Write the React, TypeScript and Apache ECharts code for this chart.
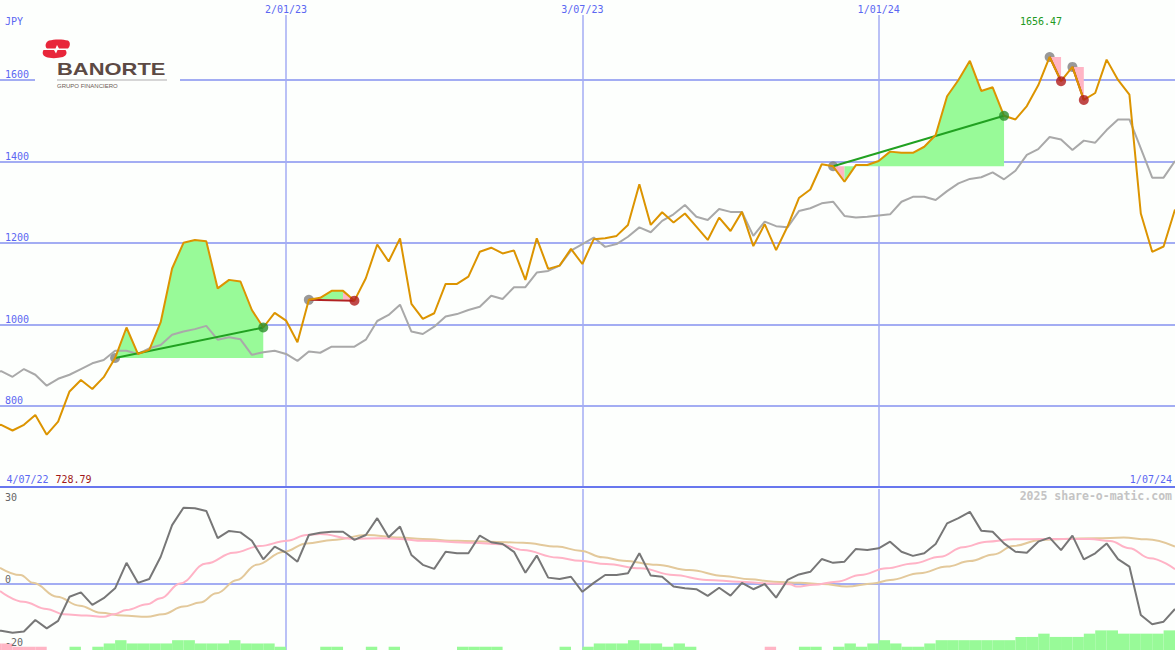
import React, { useEffect, useRef } from "react";
import * as echarts from "echarts";

// ---- data (weekly, index = weeks since 4/07/22) ----
const price = [
  748, 753, 739, 753, 777, 728.79, 761, 835, 863, 841,
  870, 917, 992, 927, 937, 1005, 1137, 1200, 1207, 1204,
  1088, 1109, 1105, 1035, 992, 1028, 1009, 956, 1060, 1065,
  1082, 1082, 1058, 1113, 1196, 1154, 1211, 1050, 1013, 1027,
  1099, 1099, 1117, 1178, 1188, 1174, 1181, 1109, 1211, 1136,
  1144, 1185, 1148, 1209, 1211, 1217, 1244, 1344, 1244, 1275,
  1250, 1272, 1240, 1207, 1262, 1229, 1276, 1192, 1246, 1182,
  1240, 1310, 1331, 1393, 1388, 1350, 1391, 1391, 1401, 1424,
  1421, 1421, 1436, 1465, 1560, 1600, 1647, 1573, 1582, 1512,
  1503, 1536, 1587, 1656.47, 1597, 1632, 1551, 1568, 1650, 1600,
  1564, 1272, 1178, 1191, 1282,
];
const bench = [
  875, 885, 871, 890, 876, 849, 866, 876, 890, 904,
  912, 935, 935, 927, 941, 949, 974, 982, 988, 996,
  962, 968, 963, 925, 931, 935, 927, 910, 933, 930,
  945, 945, 945, 962, 1008, 1023, 1048, 982, 976, 994,
  1019, 1025, 1035, 1043, 1070, 1062, 1091, 1091, 1127, 1131,
  1144, 1181, 1197, 1213, 1190, 1197, 1215, 1238, 1226, 1254,
  1270, 1293, 1264, 1256, 1283, 1276, 1276, 1217, 1252, 1241,
  1238, 1278, 1285, 1297, 1301, 1266, 1262, 1264, 1267, 1270,
  1301, 1313, 1313, 1305, 1327, 1346, 1357, 1361, 1373, 1356,
  1377, 1416, 1430, 1460, 1454, 1428, 1451, 1446, 1477, 1503,
  1503, 1432, 1360, 1360, 1401,
];
const osc = [
  -16, -16.1, -16.8, -16.4, -12.4, -15.3, -12.7, -4.4, -2.9, -7.2,
  -4.9, -1.5, 7.3, 0.4, 1.7, 9.4, 20.3, 26.3, 26.1, 25.2,
  15.8, 18.3, 17.8, 14.9, 8.5, 12.9, 10.8, 7.7, 16.9, 17.7,
  18.0, 18.0, 15.2, 16.9, 22.7, 16.1, 19.8, 10.0, 6.6, 5.2,
  11.1, 10.6, 10.6, 16.7, 14.4, 13.8, 11.1, 3.9, 9.8, 2.2,
  1.7, 2.5, -2.7, 0.4, 3.1, 3.1, 3.7, 10.6, 2.9, 2.5,
  -0.9, -1.5, -1.8, -4.1, -1.3, -4.0, 0.4, -1.8, 0, -4.7,
  1.4, 3.3, 4.2, 8.6, 7.3, 7.7, 12.1, 11.7, 12.3, 14.6,
  11.1, 9.7, 10.6, 13.8, 20.9, 22.7, 24.9, 18.4, 18.0, 14.0,
  11.1, 10.8, 14.6, 16.0, 11.7, 16.7, 8.5, 10.6, 14.0, 8.6,
  6.0, -10.7, -13.9, -13.0, -8.6,
];
const hist = [
  0, -2, -2, -1, -1, -1, 0, 0, 1, 0,
  1, 2, 3, 2, 2, 2, 2, 3, 3, 2,
  2, 2, 3, 2, 2, 2, 1, 0, 0, 0,
  1, 1, 0, 0, 1, 0, 1, 0, 0, 0,
  0, 0, 1, 1, 1, 1, 0, 0, 0, 0,
  0, 1, 0, 1, 2, 2, 2, 3, 2, 2,
  1, 2, 1, 0, 0, 0, 0, 0, 0, -1,
  0, 0, 1, 1, 0, 1, 2, 1, 2, 3,
  2, 1, 1, 2, 3, 3, 3, 3, 3, 3,
  3, 4, 4, 5, 4, 4, 4, 5, 6, 6,
  5, 5, 5, 5, 6,
];
const pinkPts = [
  [0.9, -2.4], [2.95, -6.1], [5.0, -8.6], [6.5, -10.4], [8.5, -10.9], [10.0, -11.3],
  [10.9, -10.4], [12.0, -9.0], [13.8, -7.0], [15.0, -4.9], [16.7, 0.2], [19.0, 7.1],
  [21.4, 10.8], [23.7, 13.1], [26.1, 14.9], [27.8, 16.9], [29.0, 17.2], [31.9, 15.5],
  [34.2, 15.8], [36.0, 15.5], [38.0, 14.9], [42.4, 14.2], [44.8, 13.7], [46.8, 11.7],
  [49.8, 9.1], [51.8, 8.0], [54.1, 6.9], [57.1, 5.4], [60.0, 3.1], [62.9, 1.4],
  [65.8, 0.8], [68.2, 0.2], [70.2, -0.1], [70.8, -0.9], [72.3, -0.3], [74.3, 0.8],
  [76.4, 3.1], [78.7, 5.4], [81.0, 7.1], [83.4, 9.4], [85.4, 12.7], [87.5, 14.6],
  [89.8, 15.4], [92.7, 15.5], [96.5, 15.5], [98.3, 14.8], [100.0, 12.3], [101.8, 8.9],
  [104, 5.1],
];
const tanPts = [
  [0.9, 5.6], [2.7, 3.1], [3.8, 0.4], [5.9, -4.4], [7.9, -7.5], [9.7, -9.9],
  [11.7, -10.9], [13.8, -11.3], [15.2, -10.4], [17.0, -7.8], [18.45, -6.4], [19.9, -3.2],
  [21.7, 1.4], [23.4, 6.6], [25.8, 11.1], [27.8, 14.0], [30.1, 15.2], [33.1, 16.9],
  [36.0, 16.0], [38.0, 15.5], [41.0, 14.9], [43.9, 14.6], [46.8, 14.2], [49.8, 12.9],
  [51.8, 11.5], [53.8, 9.2], [55.6, 8.0], [58.5, 6.6], [61.4, 4.8], [64.4, 2.8],
  [66.7, 1.6], [68.8, 0.8], [71.1, 0.4], [73.1, 0], [75.2, -0.9], [77.5, 0.2],
  [79.0, 1.4], [81.6, 3.7], [84.0, 6.0], [86.0, 7.9], [88.1, 10.2], [89.8, 13.1],
  [92.2, 15.2], [94.2, 15.5], [97.1, 15.8], [99.5, 16.0], [101.5, 15.4], [104, 12.9],
];
const tradeEntry = [11, 28, 74, 93, 95];
const tradeExit = [24, 32, 89, 94, 96];
const priceTicks = [800, 1000, 1200, 1400, 1600];
const dateTickWeeks = [26, 52, 78];
const dateTickLabels = ["2/01/23", "3/07/23", "1/01/24"];
const oscEdgeTicks = [30, -20];
const oscZeroTicks = [0];
const currency = "JPY";
const startLabel = "4/07/22";
const endLabel = "1/07/24";
const minLabel = "728.79";
const maxLabel = "1656.47";
const creditLabel = "2025 share-o-matic.com";

// ---- styles ----
const BG = "#fdfffd";
const BLUE = "#5b67f2";
const GRID = "#a3adf3";
const SEP = "#6877ee";
const ORANGE = "#dc9400";
const BENCH = "#a9a9a9";
const OSC = "#777777";
const PINKL = "#ffb3c6";
const TAN = "#e3c99b";
const GFILL = "#98fa98";
const PFILL = "#ffb5c5";
const GLINE = "#21a121";
const RLINE = "#b22222";
const GMARK = "#808080";
const GREENMARK = "#2a8f2a";
const REDMARK = "#b01c1c";
const MONO = "DejaVu Sans Mono";

const LOGO_TOP =
  "M 7 1.5 C 12 0 21 0 26 1.5 C 28.5 3 28.5 7 26 9.5 L 17 9.5 L 15 6 L 13.5 9.5 L 5 9.5 C 2.5 7.5 3.5 3 7 1.5 Z";
const LOGO_BOTTOM =
  "M 1.5 11 L 12 11 L 14 14.5 L 15.5 11 L 23.5 11 C 25.5 13.5 24.5 16.5 21 18 C 15 19.5 8 19.5 4 18 C 0.5 16.5 0 13.5 1.5 11 Z";

let registered = false;
function registerLogo() {
  if (registered) return;
  echarts.graphic.registerShape("logoTop", echarts.graphic.extendPath(LOGO_TOP, {}) as any);
  echarts.graphic.registerShape("logoBottom", echarts.graphic.extendPath(LOGO_BOTTOM, {}) as any);
  registered = true;
}

function buildFillRuns() {
  const runs: number[][] = [];
  tradeEntry.forEach((s, k) => {
    const e = tradeExit[k];
    const base = price[s];
    let runStart = s;
    let runUp = price[s + 1] >= base;
    for (let i = s + 1; i <= e; i++) {
      const up = price[i] >= base;
      if (up !== runUp) {
        runs.push([runStart, i - 1, base, runUp ? 1 : 0]);
        runStart = i - 1;
        runUp = up;
      }
    }
    runs.push([runStart, e, base, runUp ? 1 : 0]);
  });
  return runs;
}

export default function App() {
  const ref = useRef<HTMLDivElement>(null);
  useEffect(() => {
    if (!ref.current) return;
    registerLogo();
    const chart = echarts.init(ref.current, undefined, { renderer: "svg" });
    const X_MIN = 0.9;
    const X_MAX = 104;
    const lowTop = 489;
    const lowH = 161;
    const zeroY = 584;
    const pxPerUnit = 2.9;
    const lowMin = -(lowTop + lowH - zeroY) / pxPerUnit;
    const lowMax = (zeroY - lowTop) / pxPerUnit;

    const fillRuns = buildFillRuns();

    const tradeLines = tradeEntry.map((s, k) => {
      const e = tradeExit[k];
      const win = price[e] >= price[s];
      return {
        type: "line",
        xAxisIndex: 0,
        yAxisIndex: 0,
        data: [
          [s, price[s]],
          [e, price[e]],
        ],
        showSymbol: false,
        silent: true,
        z: 5,
        lineStyle: { color: win ? GLINE : RLINE, width: 2 },
      };
    });

    const labelFont = { fontFamily: MONO, fontSize: 10 };
    const plain = (v: number) => String(v);

    chart.setOption({
      animation: false,
      backgroundColor: BG,
      grid: [
        { left: 0, top: 15, width: 1175, height: 472.1 },
        { left: 0, top: lowTop, width: 1175, height: lowH },
      ],
      xAxis: [
        {
          gridIndex: 0,
          type: "value",
          position: "top",
          min: X_MIN,
          max: X_MAX,
          axisLine: { show: false },
          axisTick: { show: false, customValues: dateTickWeeks },
          axisLabel: {
            show: true,
            customValues: dateTickWeeks,
            margin: 1,
            color: BLUE,
            ...labelFont,
            formatter: (v: number) => {
              const i = dateTickWeeks.indexOf(Math.round(v));
              return i >= 0 ? dateTickLabels[i] : "";
            },
          },
          splitLine: { show: true, customValues: dateTickWeeks, lineStyle: { color: GRID, width: 1.5 } },
        },
        {
          gridIndex: 0,
          type: "value",
          position: "bottom",
          min: X_MIN,
          max: X_MAX,
          axisLine: { show: true, onZero: false, lineStyle: { color: SEP, width: 2 } },
          axisTick: { show: false },
          axisLabel: { show: false },
          splitLine: { show: false },
        },
        {
          gridIndex: 1,
          type: "value",
          min: X_MIN,
          max: X_MAX,
          axisLine: { show: false },
          axisTick: { show: false, customValues: dateTickWeeks },
          axisLabel: { show: false },
          splitLine: { show: true, customValues: dateTickWeeks, lineStyle: { color: GRID, width: 1.5 } },
        },
      ],
      yAxis: [
        {
          gridIndex: 0,
          type: "value",
          min: 600,
          max: 1759.6,
          position: "left",
          axisLine: { show: false },
          axisTick: { show: false, customValues: priceTicks },
          axisLabel: {
            inside: true,
            customValues: priceTicks,
            verticalAlign: "bottom",
            margin: 5,
            color: BLUE,
            formatter: plain,
            ...labelFont,
          },
          splitLine: { show: true, customValues: priceTicks, lineStyle: { color: GRID, width: 2 } },
        },
        {
          gridIndex: 1,
          type: "value",
          min: lowMin,
          max: lowMax,
          position: "left",
          z: 10,
          axisLine: { show: false },
          axisTick: { show: false, customValues: oscEdgeTicks },
          axisLabel: {
            inside: true,
            customValues: oscEdgeTicks,
            verticalAlign: "middle",
            margin: 5,
            color: "#666666",
            formatter: plain,
            ...labelFont,
          },
          splitLine: { show: false },
        },
        {
          gridIndex: 1,
          type: "value",
          min: lowMin,
          max: lowMax,
          position: "left",
          axisLine: { show: false },
          axisTick: { show: false, customValues: oscZeroTicks },
          axisLabel: {
            inside: true,
            customValues: oscZeroTicks,
            verticalAlign: "bottom",
            margin: 5,
            color: "#666666",
            formatter: plain,
            ...labelFont,
          },
          splitLine: { show: true, customValues: oscZeroTicks, lineStyle: { color: GRID, width: 2 } },
        },
        {
          gridIndex: 1,
          type: "value",
          min: 0,
          max: lowH / 3.27,
          show: false,
          splitLine: { show: false },
        },
      ],
      series: [
        {
          type: "scatter",
          xAxisIndex: 0,
          yAxisIndex: 0,
          data: tradeEntry.map((i) => [i, price[i]]),
          symbol: "circle",
          symbolSize: 10,
          itemStyle: { color: GMARK },
          silent: true,
          z: 2,
        },
        {
          type: "custom",
          xAxisIndex: 0,
          yAxisIndex: 0,
          data: fillRuns,
          encode: { x: [0, 1], y: 2 },
          silent: true,
          z: 3,
          renderItem: (_params: any, api: any) => {
            const s = api.value(0);
            const e = api.value(1);
            const base = api.value(2);
            const up = api.value(3);
            const pts: number[][] = [api.coord([s, base])];
            for (let i = s; i <= e; i++) pts.push(api.coord([i, price[i]]));
            pts.push(api.coord([e, base]));
            return {
              type: "polygon",
              shape: { points: pts },
              style: { fill: up ? GFILL : PFILL },
            };
          },
        },
        {
          type: "line",
          xAxisIndex: 0,
          yAxisIndex: 0,
          data: bench.map((v, i) => [i, v]),
          showSymbol: false,
          silent: true,
          z: 4,
          lineStyle: { color: BENCH, width: 2 },
        },
        ...tradeLines,
        {
          type: "line",
          xAxisIndex: 0,
          yAxisIndex: 0,
          data: price.map((v, i) => [i, v]),
          showSymbol: false,
          silent: true,
          z: 6,
          lineStyle: { color: ORANGE, width: 2 },
        },
        {
          type: "scatter",
          xAxisIndex: 0,
          yAxisIndex: 0,
          data: tradeExit.map((i, k) => ({
            value: [i, price[i]],
            itemStyle: { color: price[i] >= price[tradeEntry[k]] ? GREENMARK : REDMARK },
          })),
          symbol: "circle",
          symbolSize: 10,
          silent: true,
          z: 7,
        },
        {
          type: "bar",
          xAxisIndex: 2,
          yAxisIndex: 3,
          data: hist
            .map((v, i) => ({ v, i }))
            .filter((d) => d.v !== 0)
            .map((d) => ({
              value: [d.i - 0.5, Math.abs(d.v)],
              itemStyle: { color: d.v < 0 ? PFILL : GFILL },
            })),
          barWidth: 11.4,
          silent: true,
          z: 1,
        },
        {
          type: "line",
          xAxisIndex: 2,
          yAxisIndex: 2,
          data: tanPts,
          smooth: 0.4,
          smoothMonotone: "x",
          showSymbol: false,
          silent: true,
          z: 3,
          lineStyle: { color: TAN, width: 2 },
        },
        {
          type: "line",
          xAxisIndex: 2,
          yAxisIndex: 2,
          data: pinkPts,
          smooth: 0.4,
          smoothMonotone: "x",
          showSymbol: false,
          silent: true,
          z: 3,
          lineStyle: { color: PINKL, width: 2 },
        },
        {
          type: "line",
          xAxisIndex: 2,
          yAxisIndex: 2,
          data: osc.map((v, i) => [i, v]),
          showSymbol: false,
          silent: true,
          z: 4,
          lineStyle: { color: OSC, width: 2 },
        },
      ],
      graphic: [
        { type: "rect", z: 20, shape: { x: 35, y: 33, width: 145, height: 62 }, style: { fill: BG } },
        { type: "logoTop", z: 21, x: 42, y: 39, style: { fill: "#e8263a" } },
        { type: "logoBottom", z: 21, x: 42, y: 39, style: { fill: "#e8263a" } },
        {
          type: "text",
          z: 21,
          x: 57,
          y: 69,
          scaleX: 1.33,
          style: {
            text: "BANORTE",
            fill: "#5c4a44",
            fontFamily: "Liberation Sans",
            fontWeight: "bold",
            fontSize: 16.5,
            verticalAlign: "middle",
            align: "left",
          },
        },
        {
          type: "line",
          z: 21,
          shape: { x1: 57, y1: 80, x2: 167, y2: 80 },
          style: { stroke: "#d6d6d6", lineWidth: 2 },
        },
        {
          type: "text",
          z: 21,
          x: 57,
          y: 86,
          style: {
            text: "GRUPO FINANCIERO",
            fill: "#6b5b55",
            fontFamily: "Liberation Sans",
            fontSize: 6,
            verticalAlign: "middle",
            align: "left",
          },
        },
        {
          type: "text",
          z: 22,
          x: 5,
          y: 21,
          style: { text: currency, fill: BLUE, fontFamily: MONO, fontSize: 10, verticalAlign: "middle", align: "left" },
        },
        {
          type: "text",
          z: 22,
          x: 1041,
          y: 21,
          style: { text: maxLabel, fill: "#229922", fontFamily: MONO, fontSize: 10, verticalAlign: "middle", align: "center" },
        },
        {
          type: "text",
          z: 22,
          x: 6.5,
          y: 479,
          style: { text: startLabel, fill: BLUE, fontFamily: MONO, fontSize: 10, verticalAlign: "middle", align: "left" },
        },
        {
          type: "text",
          z: 22,
          x: 55.5,
          y: 479,
          style: { text: minLabel, fill: "#a01818", fontFamily: MONO, fontSize: 10, verticalAlign: "middle", align: "left" },
        },
        {
          type: "text",
          z: 22,
          x: 1172,
          y: 479,
          style: { text: endLabel, fill: BLUE, fontFamily: MONO, fontSize: 10, verticalAlign: "middle", align: "right" },
        },
        {
          type: "text",
          z: 22,
          x: 1172,
          y: 496,
          style: {
            text: creditLabel,
            fill: "#c4c4c4",
            fontFamily: MONO,
            fontWeight: "bold",
            fontSize: 11.5,
            verticalAlign: "middle",
            align: "right",
          },
        },
      ],
    });
    return () => chart.dispose();
  }, []);
  return (
    <div
      ref={ref}
      style={{ position: "fixed", left: 0, top: 0, width: 1175, height: 650, background: BG }}
    />
  );
}
